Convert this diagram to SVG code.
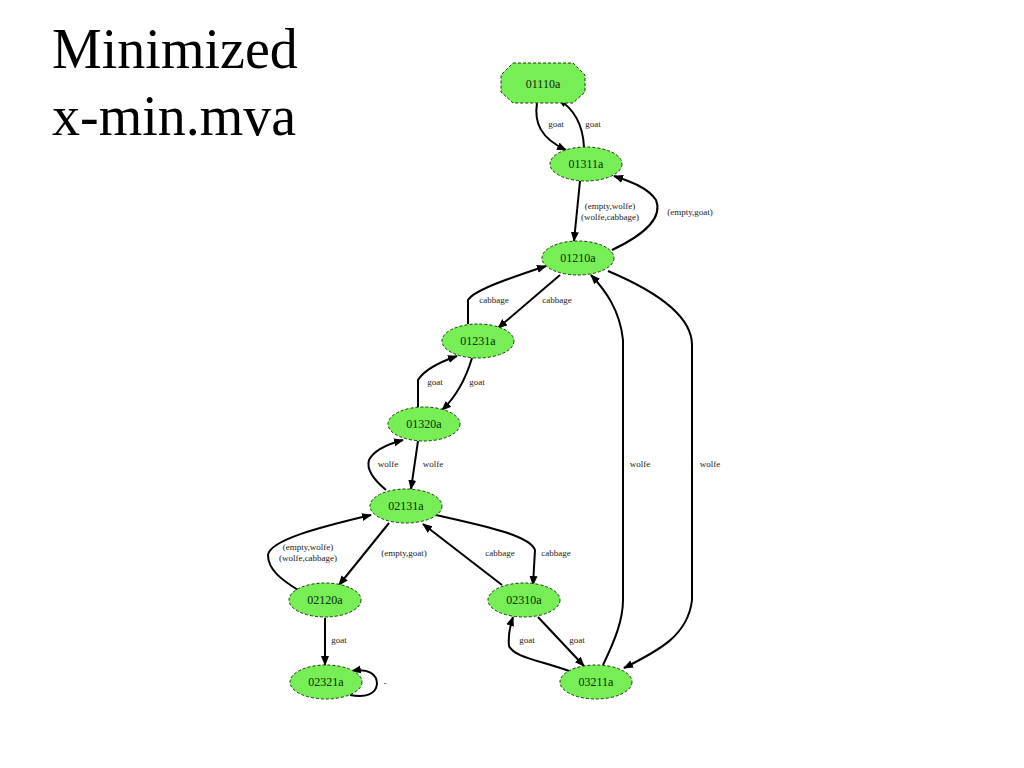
<svg xmlns="http://www.w3.org/2000/svg" width="1024" height="768" viewBox="0 0 1024 768">
<defs>
<style>
.title{font-family:"Liberation Serif","Times New Roman",serif;font-size:56px;fill:#000}
.node{fill:#77EE55;stroke:#1a3a10;stroke-width:1;stroke-dasharray:3,2}
.nl{font-family:"Liberation Serif",serif;font-size:12px;fill:#0a2a0a;text-anchor:middle}
.el{font-family:"Liberation Serif",serif;font-size:9px;fill:#222;text-anchor:middle}
.e{fill:none;stroke:#000;stroke-width:2;marker-end:url(#ah)}
</style>
<marker id="ah" viewBox="0 0 10 10" refX="9" refY="5" markerWidth="5" markerHeight="5" markerUnits="strokeWidth" orient="auto">
<path d="M0,1 L10,5 L0,9 z" fill="#000"/>
</marker>
</defs>
<rect width="1024" height="768" fill="#fff"/>
<text class="title" x="52" y="68">Minimized</text>
<text class="title" x="52" y="135">x-min.mva</text>

<g id="edges">
<path class="e" d="M537,103 C534,122 540,138 566,150"/>
<path class="e" d="M584,147 C583,126 576,110 558,99"/>
<path class="e" d="M580,181 L574,241"/>
<path class="e" d="M612,250 C650,232 662,215 656,200 C648,188 632,182 614,176"/>
<path class="e" d="M468,324 L468,300 C474,290 510,278 546,266"/>
<path class="e" d="M560,275 L498,328"/>
<path class="e" d="M418,407 L418,380 C424,370 440,362 457,356"/>
<path class="e" d="M472,358 C466,378 458,395 442,410"/>
<path class="e" d="M386,490 C374,480 366,470 369,460 C374,450 388,444 403,440"/>
<path class="e" d="M418,441 L411,489"/>
<path class="e" d="M389,523 L339,585"/>
<path class="e" d="M298,590 C282,580 268,570 268,555 C270,540 320,527 371,515"/>
<path class="e" d="M502,585 L423,524"/>
<path class="e" d="M436,515 C480,525 530,535 535,550 L533,585"/>
<path class="e" d="M325,618 L325,665"/>
<path class="e" d="M350,695 C366,698 376,694 377,684 C377,674 368,668 352,671"/>
<path class="e" d="M538,617 L584,666"/>
<path class="e" d="M572,672 C540,660 515,658 509,646 C508,636 510,626 513,617"/>
<path class="e" d="M603,665 C615,640 623,620 623,600 L623,340 C620,310 605,290 591,275"/>
<path class="e" d="M608,271 C665,295 692,320 692,345 L692,600 C688,635 660,650 624,668"/>
</g>

<g id="edge-labels">
<text class="el" x="556" y="127">goat</text>
<text class="el" x="593" y="127">goat</text>
<text class="el" x="610" y="209">(empty,wolfe)</text>
<text class="el" x="610" y="220">(wolfe,cabbage)</text>
<text class="el" x="690" y="215">(empty,goat)</text>
<text class="el" x="494" y="303">cabbage</text>
<text class="el" x="557" y="303">cabbage</text>
<text class="el" x="435" y="385">goat</text>
<text class="el" x="477" y="385">goat</text>
<text class="el" x="388" y="467">wolfe</text>
<text class="el" x="433" y="467">wolfe</text>
<text class="el" x="308" y="550">(empty,wolfe)</text>
<text class="el" x="308" y="561">(wolfe,cabbage)</text>
<text class="el" x="404" y="556">(empty,goat)</text>
<text class="el" x="500" y="556">cabbage</text>
<text class="el" x="556" y="556">cabbage</text>
<text class="el" x="339" y="643">goat</text>
<text class="el" x="385" y="686">-</text>
<text class="el" x="527" y="643">goat</text>
<text class="el" x="577" y="643">goat</text>
<text class="el" x="640" y="467">wolfe</text>
<text class="el" x="710" y="467">wolfe</text>
</g>

<g id="n01110a"><polygon class="node" points="513,63 573,63 585,75 585,92 573,103 513,103 501,92 501,75"/><text class="nl" x="543" y="88">01110a</text></g>
<g id="n01311a"><ellipse class="node" cx="586" cy="164" rx="36" ry="17"/><text class="nl" x="586" y="168">01311a</text></g>
<g id="n01210a"><ellipse class="node" cx="578" cy="258" rx="36" ry="17"/><text class="nl" x="578" y="262">01210a</text></g>
<g id="n01231a"><ellipse class="node" cx="478" cy="341" rx="36" ry="17"/><text class="nl" x="478" y="345">01231a</text></g>
<g id="n01320a"><ellipse class="node" cx="424" cy="424" rx="36" ry="17"/><text class="nl" x="424" y="428">01320a</text></g>
<g id="n02131a"><ellipse class="node" cx="406" cy="506" rx="36" ry="17"/><text class="nl" x="406" y="510">02131a</text></g>
<g id="n02120a"><ellipse class="node" cx="325" cy="600" rx="36" ry="17"/><text class="nl" x="325" y="604">02120a</text></g>
<g id="n02321a"><ellipse class="node" cx="326" cy="682" rx="36" ry="17"/><text class="nl" x="326" y="686">02321a</text></g>
<g id="n02310a"><ellipse class="node" cx="524" cy="600" rx="36" ry="17"/><text class="nl" x="524" y="604">02310a</text></g>
<g id="n03211a"><ellipse class="node" cx="596" cy="682" rx="36" ry="17"/><text class="nl" x="596" y="686">03211a</text></g>
</svg>
